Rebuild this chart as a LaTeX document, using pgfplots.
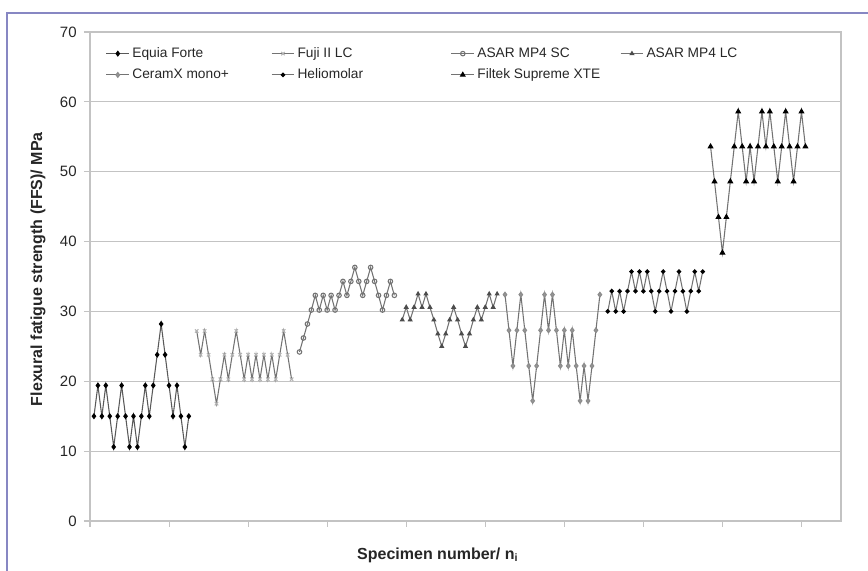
\documentclass[border=0pt]{standalone}
\usepackage{fontspec}
\setmainfont{Liberation Sans}
\usepackage{pgfplots}
\pgfplotsset{compat=1.18}
\definecolor{framecol}{RGB}{135,135,195}
\definecolor{gridc}{RGB}{195,195,195}
\definecolor{linec}{RGB}{115,115,115}
\definecolor{markg}{RGB}{150,150,150}
\newcommand{\lb}[2]{\makebox[#1][l]{#2}}
\begin{document}
\begin{tikzpicture}
\begin{axis}[name=ax, scale only axis, width=563.25pt, height=366.75pt,
  xmin=0, xmax=190, ymin=0, ymax=70,
  xtick={0,20,...,180}, xticklabels={},
  ytick={0,10,...,70},
  ymajorgrids, grid style={gridc, line width=0.9pt},
  axis line style={gridc, line width=0.9pt},
  tick style={gridc, line width=0.8pt},
  tick align=outside, major tick length=4.5pt,
  xtick pos=bottom, ytick pos=left,
  /pgf/number format/assume math mode=true,
  yticklabel style={font=\fontsize{11.25}{13}\selectfont, text=black!85, xshift=-2pt},
  ylabel={Flexural fatigue strength (FFS)/ MPa},
  ylabel style={font=\bfseries\fontsize{12}{14}\selectfont, text=black!85, at={(rel axis cs:-0.0692,0.515)}, anchor=center},
  xlabel={Specimen number/ n\textsubscript{i}},
  xlabel style={font=\bfseries\fontsize{12}{14}\selectfont, text=black!85, at={(rel axis cs:0.463,-0.0695)}, anchor=center},
  legend columns=4,
  legend style={at={(rel axis cs:0.0208,0.974)}, anchor=north west, draw=none, fill=none, inner sep=0pt, row sep=3pt,
    font=\fontsize{10.3}{12}\selectfont, text=black!85},
  legend cell align=left,
  every axis plot/.append style={line width=0.8pt},
]
\addplot[black!65, mark=diamond*, mark size=1.7pt, mark options={fill=black, draw=black}] coordinates {
(1,15)(2,19.4)(3,15)(4,19.4)(5,15)(6,10.6)(7,15)(8,19.4)(9,15)(10,10.6)(11,15)(12,10.6)(13,15)
(14,19.4)(15,15)(16,19.4)(17,23.8)(18,28.2)(19,23.8)(20,19.4)(21,15)(22,19.4)(23,15)(24,10.6)(25,15)};
\addlegendentry{\lb{102pt}{Equia Forte}}
\addplot[linec, mark=x, mark size=1.8pt, mark options={draw=black!30}] coordinates {
(27,27.2)(28,23.8)(29,27.2)(30,23.8)(31,20.3)(32,16.8)(33,20.3)(34,23.8)(35,20.3)(36,23.8)(37,27.2)(38,23.8)(39,20.3)
(40,23.8)(41,20.3)(42,23.8)(43,20.3)(44,23.8)(45,20.3)(46,23.8)(47,20.3)(48,23.8)(49,27.2)(50,23.8)(51,20.3)};
\addlegendentry{\lb{113pt}{Fuji II LC}}
\addplot[linec, mark=o, mark size=1.7pt, mark options={draw=black!55, fill=white}] coordinates {
(53,24.2)(54,26.2)(55,28.2)(56,30.2)(57,32.3)(58,30.2)(59,32.3)(60,30.2)(61,32.3)(62,30.2)(63,32.3)(64,34.3)(65,32.3)
(66,34.3)(67,36.3)(68,34.3)(69,32.3)(70,34.3)(71,36.3)(72,34.3)(73,32.3)(74,30.2)(75,32.3)(76,34.3)(77,32.3)};
\addlegendentry{\lb{105pt}{ASAR MP4 SC}}
\addplot[linec, mark=triangle*, mark size=1.5pt, mark options={draw=black!70, fill=black!70}] coordinates {
(79,28.8)(80,30.6)(81,28.8)(82,30.6)(83,32.5)(84,30.6)(85,32.5)(86,30.6)(87,28.8)(88,26.8)(89,25.0)(90,26.8)(91,28.8)
(92,30.6)(93,28.8)(94,26.8)(95,25.0)(96,26.8)(97,28.8)(98,30.6)(99,28.8)(100,30.6)(101,32.5)(102,30.6)(103,32.5)};
\addlegendentry{\lb{80pt}{ASAR MP4 LC}}
\addplot[linec, mark=diamond*, mark size=1.8pt, mark options={draw=black!45, fill=markg}] coordinates {
(105,32.4)(106,27.3)(107,22.2)(108,27.3)(109,32.4)(110,27.3)(111,22.2)(112,17.2)(113,22.2)(114,27.3)(115,32.4)(116,27.3)(117,32.4)
(118,27.3)(119,22.2)(120,27.3)(121,22.2)(122,27.3)(123,22.2)(124,17.2)(125,22.2)(126,17.2)(127,22.2)(128,27.3)(129,32.4)};
\addlegendentry{\lb{102pt}{CeramX mono+}}
\addplot[linec, mark=*, mark size=1.3pt, mark options={draw=black, fill=black}] coordinates {
(131,30.0)(132,32.9)(133,30.0)(134,32.9)(135,30.0)(136,32.9)(137,35.7)(138,32.9)(139,35.7)(140,32.9)(141,35.7)(142,32.9)(143,30.0)
(144,32.9)(145,35.7)(146,32.9)(147,30.0)(148,32.9)(149,35.7)(150,32.9)(151,30.0)(152,32.9)(153,35.7)(154,32.9)(155,35.7)};
\addlegendentry{\lb{113pt}{Heliomolar}}
\addplot[linec, mark=triangle*, mark size=1.9pt, mark options={draw=black, fill=black}] coordinates {
(157,53.6)(158,48.6)(159,43.5)(160,38.4)(161,43.5)(162,48.6)(163,53.6)(164,58.6)(165,53.6)(166,48.6)(167,53.6)(168,48.6)(169,53.6)
(170,58.6)(171,53.6)(172,58.6)(173,53.6)(174,48.6)(175,53.6)(176,58.6)(177,53.6)(178,48.6)(179,53.6)(180,58.6)(181,53.6)};
\addlegendentry{\lb{105pt}{Filtek Supreme XTE}}
\end{axis}
\draw[framecol, line width=0.9pt] ([xshift=-62.25pt,yshift=-40pt]ax.south west) -- ([xshift=-62.25pt,yshift=14.25pt]ax.north west) -- ([xshift=24pt,yshift=14.25pt]ax.north east);
\pgfresetboundingbox
\path ([xshift=-67.5pt,yshift=-37.5pt]ax.south west) rectangle ([xshift=20.25pt,yshift=24pt]ax.north east);
\end{tikzpicture}
\end{document}
